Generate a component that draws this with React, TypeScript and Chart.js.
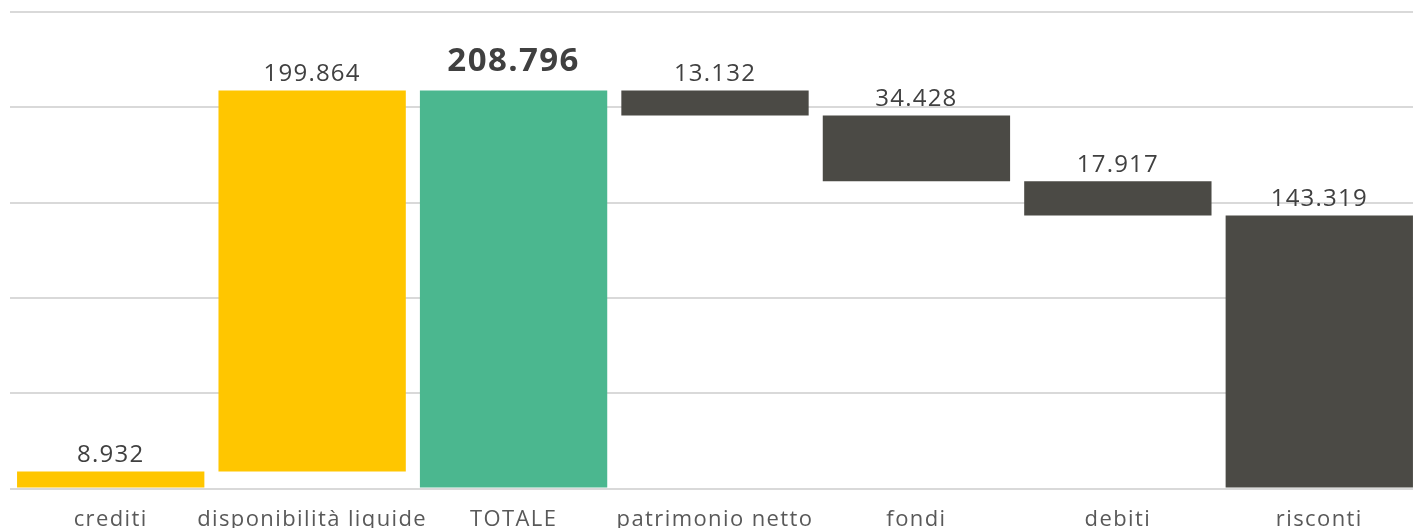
import React, { useEffect, useRef } from "react";
import { Chart, registerables } from "chart.js";

Chart.register(...registerables);

const categories = ["crediti", "disponibilità liquide", "TOTALE", "patrimonio netto", "fondi", "debiti", "risconti"];
const values = [8932, 199864, 208796, 13132, 34428, 17917, 143319];
// kind: "up" adds, "total" is full bar, "down" subtracts
const kinds = ["up", "up", "total", "down", "down", "down", "down"];
const colors = ["#FFC600", "#FFC600", "#4BB78F", "#4B4A45", "#4B4A45", "#4B4A45", "#4B4A45"];
const yTicks = [0, 50000, 100000, 150000, 200000, 250000];

function buildRanges(): [number, number][] {
  const out: [number, number][] = [];
  let run = 0;
  values.forEach((v, i) => {
    const k = kinds[i];
    if (k === "total") {
      out.push([0, v]);
      run = v;
    } else if (k === "up") {
      out.push([run, run + v]);
      run += v;
    } else {
      out.push([run - v, run]);
      run -= v;
    }
  });
  return out;
}

const fmt = (n: number) => n.toString().replace(/\B(?=(\d{3})+(?!\d))/g, ".");

const spacingPlugin = {
  id: "spacing",
  beforeDraw(chart: any) {
    chart.ctx.letterSpacing = "1.4px";
  },
};

const labelPlugin = {
  id: "wfLabels",
  afterDatasetsDraw(chart: any) {
    const ctx = chart.ctx;
    const meta = chart.getDatasetMeta(0);
    ctx.save();
    ctx.textAlign = "center";
    ctx.textBaseline = "middle";
    meta.data.forEach((el: any, i: number) => {
      const top = Math.min(el.y, el.base);
      const bold = kinds[i] === "total";
      ctx.font = bold ? "bold 33px 'Open Sans'" : "24px 'Open Sans'";
      ctx.letterSpacing = bold ? "1.4px" : "1.2px";
      ctx.fillStyle = "#404040";
      ctx.fillText(fmt(values[i]), el.x, top - (bold ? 29 : 16));
    });
    ctx.restore();
  },
};

export default function App() {
  const ref = useRef<HTMLCanvasElement | null>(null);
  useEffect(() => {
    if (!ref.current) return;
    const chart = new Chart(ref.current, {
      type: "bar",
      data: {
        labels: categories,
        datasets: [
          {
            data: buildRanges() as any,
            backgroundColor: colors,
            borderWidth: 0,
            categoryPercentage: 1,
            barPercentage: 0.93,
          },
        ],
      },
      options: {
        animation: false,
        responsive: true,
        maintainAspectRatio: false,
        layout: { padding: { left: 10, right: 0, top: 12, bottom: 0 } },
        plugins: { legend: { display: false }, tooltip: { enabled: false } },
        scales: {
          x: {
            grid: { display: false },
            border: { display: false },
            ticks: { color: "#595959", font: { family: "'Open Sans'", size: 22 }, padding: 10, maxRotation: 0, autoSkip: false },
          },
          y: {
            min: 0,
            max: 250000,
            afterBuildTicks: (axis: any) => {
              axis.ticks = yTicks.map((v) => ({ value: v }));
            },
            grid: { color: "#d9d9d9", lineWidth: 2, drawTicks: false },
            border: { display: false },
            ticks: { display: false },
          },
        },
      },
      plugins: [spacingPlugin, labelPlugin],
    });
    return () => chart.destroy();
  }, []);
  return (
    <div style={{ position: "fixed", left: 0, top: 0, width: 1413, height: 528, overflow: "hidden", background: "#fff" }}>
      <div style={{ position: "absolute", left: 0, top: 0, width: 1420, height: 543 }}>
        <canvas ref={ref} />
      </div>
    </div>
  );
}
